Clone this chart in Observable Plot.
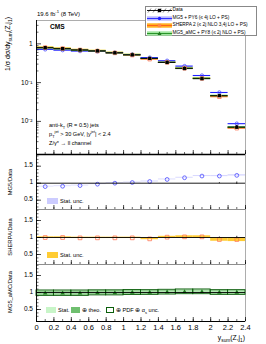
<!DOCTYPE html>
<html><head><meta charset="utf-8">
<script src="https://cdn.jsdelivr.net/npm/d3@7"></script>
<script src="https://cdn.jsdelivr.net/npm/@observablehq/plot@0.6"></script>
<style>
body{margin:0;background:#fff;}
#c{position:relative;width:266px;height:344px;overflow:hidden;font-family:"Liberation Sans",Arial,sans-serif;color:#000;}
#c svg{position:absolute;left:0;overflow:visible;}
.t{position:absolute;white-space:nowrap;line-height:1;z-index:2;}
.t sub,.t sup{font-size:70%;line-height:0;}
.lg{position:absolute;left:145px;top:6px;width:112px;height:30px;border:0.7px solid #888;background:#fff;box-sizing:border-box;z-index:3;}
.sw{position:absolute;z-index:2;}
</style></head><body><div id="c"></div>
<script>
// ---------- data ----------
const binLo = [0.0, 0.2, 0.4, 0.6, 0.8, 1.0, 1.2, 1.4, 1.6, 1.8, 2.0, 2.2];
const binWidth = 0.2;
const dataVals = [0.80, 0.755, 0.70, 0.66, 0.59, 0.52, 0.42, 0.33, 0.23, 0.126, 0.046, 0.0071];
const dataStat = [0.004, 0.004, 0.004, 0.004, 0.005, 0.005, 0.006, 0.007, 0.008, 0.010, 0.015, 0.035];
const mg5Ratio = [0.90, 0.91, 0.93, 0.97, 1.00, 1.02, 1.05, 1.11, 1.16, 1.21, 1.21, 1.23];
const mg5Stat  = [0.012, 0.012, 0.012, 0.012, 0.012, 0.012, 0.013, 0.013, 0.014, 0.015, 0.017, 0.02];
const sherpaRatio = [1.00, 1.00, 0.99, 0.99, 0.99, 0.99, 0.96, 1.01, 1.02, 1.02, 0.94, 0.94];
const sherpaStat  = [0.02, 0.02, 0.02, 0.02, 0.02, 0.02, 0.025, 0.025, 0.03, 0.03, 0.05, 0.06];
const amcRatio = [0.98, 0.98, 0.98, 0.99, 0.99, 1.00, 1.00, 1.01, 1.02, 1.02, 1.00, 1.00];
const amcStat  = [0.02, 0.02, 0.02, 0.02, 0.02, 0.02, 0.02, 0.02, 0.03, 0.03, 0.03, 0.04];
const amcTheo  = [0.07, 0.07, 0.07, 0.07, 0.07, 0.07, 0.06, 0.06, 0.06, 0.06, 0.06, 0.06];
const amcPdf   = [0.08, 0.08, 0.08, 0.075, 0.075, 0.075, 0.07, 0.07, 0.07, 0.07, 0.07, 0.07];
const xTickValues = [0, 0.2, 0.4, 0.6, 0.8, 1.0, 1.2, 1.4, 1.6, 1.8, 2.0, 2.2, 2.4];
const xTickLabels = ["0", "0.2", "0.4", "0.6", "0.8", "1", "1.2", "1.4", "1.6", "1.8", "2", "2.2", "2.4"];
const mainYTicks = [0.01, 0.1, 1];
const mainYLabels = ["10\u207B\u00B2", "10\u207B\u00B9", "1"];
const ratioYTicks = [0.5, 1, 1.5];
const ratioYLabels = ["0.5", "1", "1.5"];

// ---------- helpers ----------
const W = 266, ML = 36, MR = 21, PW = W - ML - MR;
const FONT = '"Liberation Sans", Arial, sans-serif';
const C = document.getElementById("c");
const rows = binLo.map((lo, i) => ({
  lo, hi: lo + binWidth, mid: lo + binWidth / 2,
  d: dataVals[i], ds: dataStat[i],
  mg5: dataVals[i] * mg5Ratio[i], sh: dataVals[i] * sherpaRatio[i], amc: dataVals[i] * amcRatio[i],
  rm: mg5Ratio[i], rms: mg5Stat[i],
  rs: sherpaRatio[i], rss: sherpaStat[i],
  ra: amcRatio[i], ras: amcStat[i], rat: amcTheo[i], rap: amcPdf[i]
}));
const xMinor = d3.range(0, 2.4001, 0.1);
const mainYTickRows = mainYTicks.map((v, i) => ({v, label: mainYLabels[i]}));
const xTickRows = xTickValues.map((v, i) => ({v, label: xTickLabels[i]}));

function place(svg, top) { svg.style.top = top + "px"; C.appendChild(svg); }
function txt(html, css) { const e = document.createElement("div"); e.className = "t"; e.innerHTML = html; Object.assign(e.style, css); C.appendChild(e); return e; }

function xInnerTicks(h) {
  return [
    Plot.tickX(xTickValues, {x: d => d, insetTop: h - 4, stroke: "#000", strokeWidth: 0.7}),
    Plot.tickX(xMinor, {x: d => d, insetTop: h - 2, stroke: "#000", strokeWidth: 0.6})
  ];
}

// ---------- main panel ----------
const mainH = 154, mainMT = 20;
const logMinor = [];
for (let k = -3; k <= 0; k++) for (let m = 2; m <= 9; m++) { const v = m * Math.pow(10, k); if (v > 1.4e-3 && v < 4) logMinor.push(v); }
const main = Plot.plot({
  width: W, height: mainH, marginLeft: ML, marginRight: MR, marginTop: mainMT, marginBottom: 0,
  style: {fontFamily: FONT, fontSize: "6.5px", background: "transparent", overflow: "visible"},
  x: {domain: [0, 2.4], axis: null},
  y: {type: "log", domain: [1.4e-3, 4], axis: null},
  marks: [
    Plot.frame({stroke: "#999", strokeWidth: 0.8}),
    Plot.rect(rows, {x1: "lo", x2: "hi", y1: d => d.sh * 0.95, y2: d => d.sh * 1.05, fill: "#ffcc33"}),
    Plot.rect(rows, {x1: "lo", x2: "hi", y1: d => d.amc * 0.965, y2: d => d.amc * 1.035, fill: "#88dd88"}),
    Plot.ruleY(rows, {x1: "lo", x2: "hi", y: "mg5", stroke: "#1f1fff", strokeWidth: 1.1}),
    Plot.ruleY(rows, {x1: "lo", x2: "hi", y: "sh", stroke: "#ff6a3a", strokeWidth: 0.9}),
    Plot.ruleY(rows, {x1: "lo", x2: "hi", y: "amc", stroke: "#0a6a0a", strokeWidth: 1.1}),
    Plot.ruleY(rows, {x1: "lo", x2: "hi", y: "d", stroke: "#000", strokeWidth: 0.8}),
    Plot.dot(rows, {x: "mid", y: "mg5", r: 1.7, stroke: "#4a4aff", strokeWidth: 0.8, fill: "none"}),
    Plot.dot(rows, {x: "mid", y: "sh", symbol: "square", r: 2, stroke: "#ff7755", strokeWidth: 0.8, fill: "none"}),
    Plot.dot(rows, {x: "mid", y: "amc", symbol: "triangle", r: 1.6, fill: "#1d7a1d"}),
    Plot.ruleX(rows, {x: "mid", y1: d => d.d * (1 - d.ds * 3), y2: d => d.d * (1 + d.ds * 3), stroke: "#000", strokeWidth: 0.8}),
    Plot.dot(rows, {x: "mid", y: "d", symbol: "square", r: 1.8, fill: "#000"}),
    Plot.ruleX([0], {stroke: "#000", strokeWidth: 0.9}),
    Plot.tickY(mainYTicks, {y: d => d, insetRight: PW - 5, stroke: "#000", strokeWidth: 0.7}),
    Plot.tickY(logMinor, {y: d => d, insetRight: PW - 2.5, stroke: "#000", strokeWidth: 0.6}),
    Plot.text(mainYTickRows, {y: "v", text: "label", frameAnchor: "left", textAnchor: "end", dx: -4, fontSize: 6.5, fill: "#000"}),
    ...xInnerTicks(mainH - mainMT)
  ]
});
place(main, 0);

// ---------- ratio panels ----------
function ratioPanel(top, h, mb, domain, marks, bottomAxis) {
  const yMinor = d3.range(0.3, 1.85, 0.1).filter(v => v > domain[0] && v < domain[1]);
  const svg = Plot.plot({
    width: W, height: h + mb, marginLeft: ML, marginRight: MR, marginTop: 0, marginBottom: mb,
    style: {fontFamily: FONT, fontSize: "6.5px", background: "transparent", overflow: "visible"},
    x: {domain: [0, 2.4], axis: null},
    y: {domain, axis: null},
    marks: [
      Plot.frame({stroke: "#999", strokeWidth: 0.8}),
      ...marks,
      Plot.ruleY([1], {stroke: "#000", strokeWidth: 0.9}),
      Plot.ruleX([0], {stroke: "#000", strokeWidth: 0.9}),
      Plot.tickY(ratioYTicks, {y: d => d, insetRight: PW - 5, stroke: "#000", strokeWidth: 0.7}),
      Plot.tickY(yMinor, {y: d => d, insetRight: PW - 2.5, stroke: "#000", strokeWidth: 0.6}),
      ...xInnerTicks(h),
      Plot.ruleY([domain[0]], {stroke: bottomAxis ? "#000" : "#444", strokeWidth: bottomAxis ? 1 : 0.7}),
      ...(bottomAxis ? [Plot.text(xTickRows, {x: "v", text: "label", frameAnchor: "bottom", lineAnchor: "top", dy: 3, fontSize: 7.5, fill: "#000"})] : [])
    ]
  });
  place(svg, top);
  // y tick labels, positioned through the panel's own y scale
  const ys = svg.scale("y");
  ratioYTicks.forEach((v, i) => {
    const py = top + ys.apply(v);
    txt(ratioYLabels[i], {right: (W - ML + 3) + "px", top: (py - 3.4) + "px", fontSize: "6.5px", textAlign: "right"});
  });
  return svg;
}
const dataUnc = () => [
  Plot.ruleX(rows.filter(r => r.lo >= 2.0), {x: "mid", y1: r => 1 - r.ds, y2: r => 1 + r.ds, stroke: "#000", strokeWidth: 0.8})
];

// MG5 / Data
ratioPanel(154, 55, 0, [0.226, 1.844], [
  Plot.rect(rows, {x1: "lo", x2: "hi", y1: d => d.rm - d.rms, y2: d => d.rm + d.rms, fill: "#d8d8ff"}),
  ...dataUnc(),
  Plot.dot(rows, {x: "mid", y: "rm", r: 1.9, stroke: "#4a4aff", strokeWidth: 0.8, fill: "none"}),
  Plot.ruleY([1.844], {stroke: "#000", strokeWidth: 1.6})
]);

// SHERPA / Data
ratioPanel(209, 55, 0, [0.206, 1.824], [
  Plot.rect(rows, {x1: "lo", x2: "hi", y1: d => d.rs - d.rss, y2: d => d.rs + d.rss, fill: "#ffcc33"}),
  ...dataUnc(),
  Plot.dot(rows, {x: "mid", y: "rs", symbol: "square", r: 2.1, stroke: "#ff7755", strokeWidth: 0.8, fill: "none"})
]);

// MG5_aMC / Data
ratioPanel(264, 57, 23, [0.147, 1.824], [
  Plot.rect(rows, {x1: "lo", x2: "hi", y1: d => d.ra - d.rat, y2: d => d.ra + d.rat, fill: "#6fbf6f", fillOpacity: 0.75}),
  Plot.rect(rows, {x1: "lo", x2: "hi", y1: d => d.ra - d.ras, y2: d => d.ra + d.ras, fill: "#c8f5c8", fillOpacity: 0.6}),
  Plot.rect(rows, {x1: "lo", x2: "hi", y1: d => d.ra - d.rap, y2: d => d.ra + d.rap, fill: "none", stroke: "#0b5e0b", strokeWidth: 0.9}),
  ...dataUnc(),
  Plot.dot(rows, {x: "mid", y: "ra", symbol: "triangle", r: 1.7, fill: "#1d7a1d"})
], true);

// ---------- texts ----------
txt("19.6 fb<sup>-1</sup> (8 TeV)", {left: "37px", top: "11px", fontSize: "6px"});
txt("CMS", {left: "50px", top: "24px", fontSize: "6.6px", fontWeight: "bold"});
txt("anti-k<sub>T</sub> (R = 0.5) jets", {left: "49px", top: "123px", fontSize: "5.6px"});
txt("p<sub>T</sub><sup>jet</sup> &gt; 30 GeV, |y<sup>jet</sup>| &lt; 2.4", {left: "49px", top: "132px", fontSize: "5.6px"});
txt("Z/\u03B3* \u2192 ll channel", {left: "49px", top: "140.5px", fontSize: "5.6px"});
function vtxt(html, cx, yRef, w, align, fs) {
  const e = txt(html, {width: w + "px", textAlign: align, fontSize: fs + "px", height: fs + "px",
    transformOrigin: "0 0", transform: "rotate(-90deg)"});
  e.style.left = (cx - fs / 2) + "px";
  e.style.top = yRef + "px";
}
vtxt("1/\u03C3 d\u03C3/dy<sub>sum</sub>(Z,j<sub>1</sub>)", 7.5, 97, 80, "right", 7);
vtxt("MG5/Data", 10.5, 212, 60, "center", 5.8);
vtxt("SHERPA/Data", 10.5, 267, 60, "center", 5.8);
vtxt("MG5_aMC/Data", 10.5, 322, 60, "center", 5.8);
txt("y<sub>sum</sub>(Z,j<sub>1</sub>)", {right: (266 - 245) + "px", top: "334.5px", fontSize: "6.8px"});

// ratio legends
function swatch(css) { const e = document.createElement("div"); e.className = "sw"; Object.assign(e.style, css); C.appendChild(e); }
swatch({left: "47px", top: "198px", width: "11px", height: "6px", background: "#ccccff"});
txt("Stat. unc.", {left: "60px", top: "198.5px", fontSize: "5.6px"});
swatch({left: "47px", top: "252px", width: "11px", height: "6px", background: "#ffcc33"});
txt("Stat. unc.", {left: "60px", top: "252.5px", fontSize: "5.6px"});
swatch({left: "46px", top: "307px", width: "10px", height: "6px", background: "#c8f5c8"});
txt("Stat.", {left: "58px", top: "307.5px", fontSize: "5.6px"});
swatch({left: "71px", top: "307px", width: "9px", height: "6px", background: "#6fbf6f"});
txt("\u2295 theo.", {left: "82px", top: "307.5px", fontSize: "5.6px"});
swatch({left: "106px", top: "307px", width: "8px", height: "6px", border: "1px solid #0b5e0b", boxSizing: "border-box", background: "#fff"});
txt("\u2295 PDF \u2295 \u03B1<sub>s</sub> unc.", {left: "116px", top: "307.5px", fontSize: "5.6px"});

// main legend
const lg = document.createElement("div"); lg.className = "lg"; C.appendChild(lg);
const legendItems = [
  {label: "Data", band: null, line: "#000", mk: "sq", mc: "#000"},
  {label: "MG5 + PY6 (\u2264 4j LO + PS)", band: "#b8b8ff", line: "#1f1fff", mk: "ci", mc: "#1f1fff"},
  {label: "SHERPA 2 (\u2264 2j NLO 3,4j LO + PS)", band: "#ffb020", line: "#ff5a1a", mk: "sq", mc: "#ff8844"},
  {label: "MG5_aMC + PY8 (\u2264 2j NLO + PS)", band: "#9fe59f", line: "#1d8a1d", mk: "tr", mc: "#1d7a1d"}
];
legendItems.forEach((it, i) => {
  const cy = 3.4 + i * 7.6;
  const s = document.createElementNS("http://www.w3.org/2000/svg", "svg");
  s.setAttribute("width", 25); s.setAttribute("height", 7);
  s.style.position = "absolute"; s.style.left = "1px"; s.style.top = (cy - 3.5) + "px";
  let inner = "";
  if (it.band) inner += `<rect x="0" y="1.3" width="25" height="4.4" fill="${it.band}"/>`;
  else for (let k = 0; k < 5; k++) inner += `<line x1="${k*5+1}" y1="5.5" x2="${k*5+4}" y2="1.5" stroke="#000" stroke-width="0.5"/>`;
  inner += `<line x1="0" y1="3.5" x2="25" y2="3.5" stroke="${it.line}" stroke-width="0.9"/>`;
  if (it.mk === "sq") inner += `<rect x="10.8" y="1.8" width="3.4" height="3.4" fill="${it.mc}"/>`;
  if (it.mk === "ci") inner += `<circle cx="12.5" cy="3.5" r="1.7" fill="${it.mc}"/>`;
  if (it.mk === "tr") inner += `<path d="M12.5,1.5L14.5,5L10.5,5Z" fill="${it.mc}"/>`;
  s.innerHTML = inner; lg.appendChild(s);
  const t = document.createElement("div"); t.className = "t"; t.textContent = it.label;
  Object.assign(t.style, {left: "26.5px", top: (cy - 2.4) + "px", fontSize: "4.8px"});
  lg.appendChild(t);
});
</script></body></html>
